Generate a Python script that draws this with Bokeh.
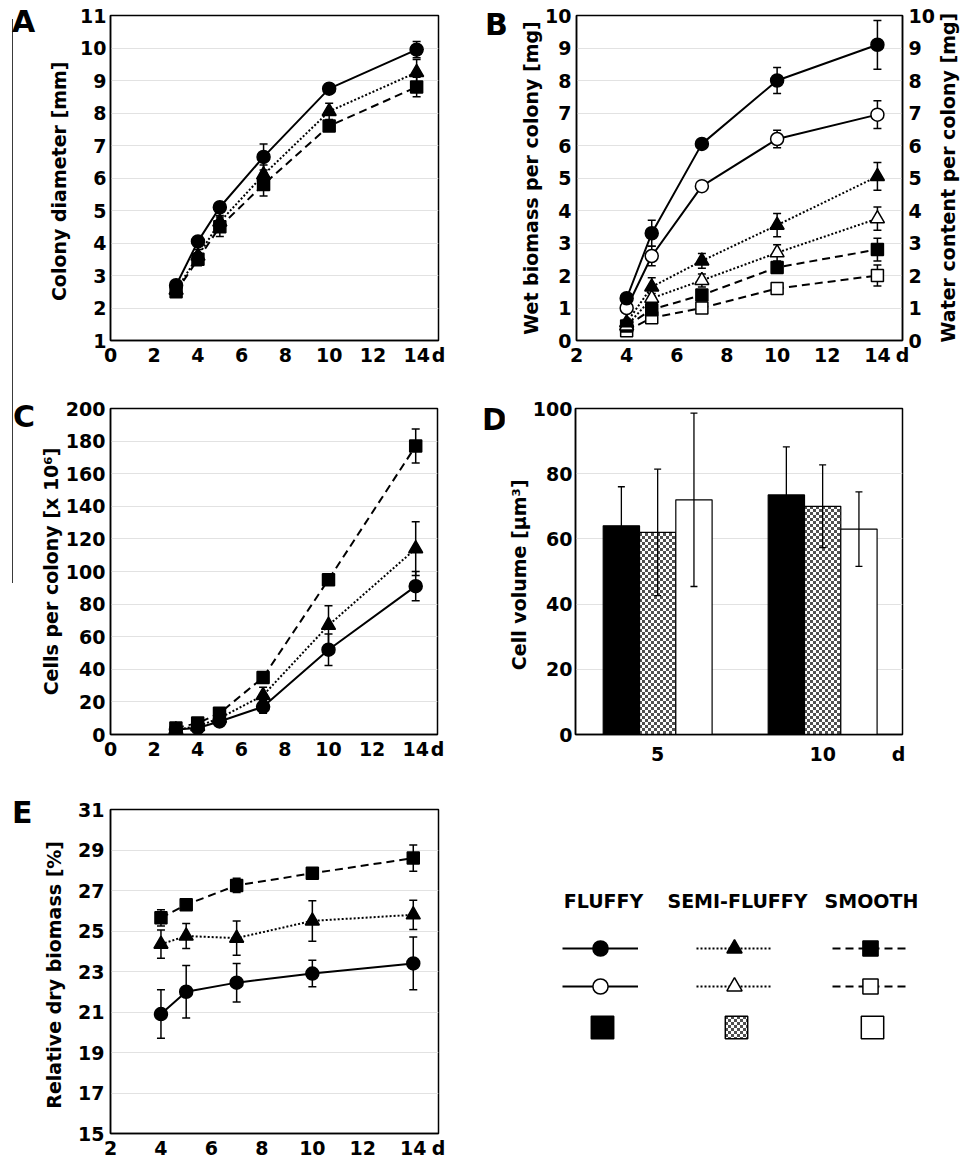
import math, zlib, struct, base64
from bokeh.plotting import figure
from bokeh.models import (Range1d, FixedTicker, LinearAxis, Whisker, TeeHead, Div,
                          ColumnDataSource, Label, Legend, LegendItem, ImageURLTexture)
from bokeh.layouts import column, row
from bokeh.embed import file_html
from bokeh.resources import INLINE
from bokeh.core.properties import value

FONT = "DejaVu Sans"
FS = "19px"

# ---------------- data ----------------
# A: colony diameter [mm]
days_a = [3, 4, 5, 7, 10, 14]
diam_fluffy = [2.7, 4.05, 5.1, 6.65, 8.75, 9.95]
diam_fluffy_err = [0.1, 0.1, 0.1, 0.4, 0.1, 0.25]
diam_semi = [2.55, 3.6, 4.65, 6.1, 8.05, 9.25]
diam_semi_err = [0.1, 0.2, 0.2, 0.3, 0.25, 0.4]
diam_smooth = [2.5, 3.5, 4.5, 5.8, 7.6, 8.8]
diam_smooth_err = [0.1, 0.2, 0.3, 0.35, 0.1, 0.3]

# B: wet biomass / water content per colony [mg]
days_b = [4, 5, 7, 10, 14]
wet_fluffy = [1.3, 3.3, 6.05, 8.0, 9.1]
wet_fluffy_err = [0.1, 0.4, 0.1, 0.4, 0.75]
water_fluffy = [1.0, 2.6, 4.75, 6.2, 6.95]
water_fluffy_err = [0.1, 0.3, 0.1, 0.27, 0.43]
wet_semi = [0.55, 1.65, 2.45, 3.55, 5.05]
wet_semi_err = [0.1, 0.28, 0.23, 0.36, 0.43]
water_semi = [0.45, 1.3, 1.85, 2.7, 3.75]
water_semi_err = [0.1, 0.15, 0.2, 0.25, 0.36]
wet_smooth = [0.45, 0.95, 1.4, 2.25, 2.8]
wet_smooth_err = [0.1, 0.1, 0.1, 0.1, 0.35]
water_smooth = [0.3, 0.7, 1.0, 1.6, 2.0]
water_smooth_err = [0.05, 0.05, 0.05, 0.05, 0.32]

# C: cells per colony [x 10^6]
days_c = [3, 4, 5, 7, 10, 14]
cells_fluffy = [3, 4, 8, 17, 52, 91]
cells_fluffy_err = [1, 1, 1, 4, 9.7, 9]
cells_semi = [3, 5, 10, 24, 67, 114]
cells_semi_err = [1, 1, 1, 5, 12, 16.5]
cells_smooth = [4, 7, 13, 35, 95, 177]
cells_smooth_err = [1, 1, 2, 2, 2, 10.5]

# D: cell volume [um3]
vol_days = ["5", "10"]
vol_fluffy = [64, 73.5]
vol_fluffy_err = [12, 14.7]
vol_semi = [62, 70]
vol_semi_err = [19.4, 12.7]
vol_smooth = [72, 63]
vol_smooth_err = [26.6, 11.4]

# E: relative dry biomass [%]
days_e = [4, 5, 7, 10, 14]
dry_fluffy = [20.9, 22.0, 22.45, 22.9, 23.4]
dry_fluffy_err = [1.2, 1.3, 0.95, 0.65, 1.3]
dry_semi = [24.35, 24.75, 24.65, 25.5, 25.8]
dry_semi_err = [0.7, 0.62, 0.85, 1.0, 0.72]
dry_smooth = [25.65, 26.3, 27.25, 27.85, 28.6]
dry_smooth_err = [0.4, 0.25, 0.35, 0.2, 0.65]

strain_names = ["FLUFFY", "SEMI-FLUFFY", "SMOOTH"]

# ---------------- styles ----------------
DASH = {"fluffy": "solid", "semi": "2 2", "smooth": "8 5"}
MARK = {"fluffy": "circle", "semi": "triangle", "smooth": "square"}
MSIZE = {"fluffy": 13, "semi": 14, "smooth": 12}


def checker_png(cell=3, dark=(80, 80, 80), light=(255, 255, 255)):
    n = cell * 2
    raw = b""
    for y in range(n):
        r = bytearray([0])
        for x in range(n):
            r += bytes(dark if ((x // cell) + (y // cell)) % 2 == 0 else light)
        raw += bytes(r)

    def chunk(t, d):
        return (struct.pack(">I", len(d)) + t + d +
                struct.pack(">I", zlib.crc32(t + d) & 0xffffffff))
    png = (b"\x89PNG\r\n\x1a\n" +
           chunk(b"IHDR", struct.pack(">IIBBBBB", n, n, 8, 2, 0, 0, 0)) +
           chunk(b"IDAT", zlib.compress(raw)) + chunk(b"IEND", b""))
    return "data:image/png;base64," + base64.b64encode(png).decode()


CHECKER = dict(fill_color="#a8a8a8", hatch_pattern=value("checker"),
               hatch_extra={"checker": ImageURLTexture(url=checker_png(), repetition="repeat")},
               hatch_color="black")


def style_axis(ax, standoff, label_standoff):
    ax.axis_line_color = "black"
    ax.axis_line_width = 1.5
    ax.major_tick_line_color = None
    ax.minor_tick_line_color = None
    ax.major_tick_out = 0
    ax.major_tick_in = 0
    ax.minor_tick_out = 0
    ax.minor_tick_in = 0
    ax.major_label_text_font = FONT
    ax.major_label_text_font_size = FS
    ax.major_label_text_font_style = "bold"
    ax.major_label_text_color = "black"
    ax.major_label_standoff = standoff
    ax.axis_label_text_font = FONT
    ax.axis_label_text_font_size = FS
    ax.axis_label_text_font_style = "bold"
    ax.axis_label_text_color = "black"
    ax.axis_label_standoff = label_standoff


def make_fig(w, h, xr, yr, borders, xticks, xover, yticks, ylabel,
             ystand=(5, 8), xstand=3):
    bl, br, bt, bb = borders
    p = figure(width=w, height=h, x_range=Range1d(*xr), y_range=Range1d(*yr),
               output_backend="svg", toolbar_location=None, tools="",
               min_border_left=bl, min_border_right=br,
               min_border_top=bt, min_border_bottom=bb)
    p.outline_line_color = "black"
    p.outline_line_width = 1.5
    p.xgrid.visible = False
    yt = FixedTicker(ticks=yticks)
    p.yaxis.ticker = yt
    p.ygrid.ticker = yt
    p.ygrid.grid_line_color = "#e2e2e2"
    p.ygrid.grid_line_width = 1
    p.xaxis.ticker = FixedTicker(ticks=xticks)
    p.xaxis.major_label_overrides = xover
    p.yaxis.axis_label = ylabel
    style_axis(p.yaxis[0], ystand[0], ystand[1])
    style_axis(p.xaxis[0], xstand, 0)
    return p


def text_div(txt, w, h, left, top, size=30, rule=None):
    extra = ""
    if rule is not None:
        rx, ry0, ry1 = rule
        extra = (f'<div style="position:absolute;left:{rx}px;top:{ry0}px;width:0;'
                 f'height:{ry1 - ry0}px;border-left:1px solid #3a3a3a;"></div>')
    html = (f'<div style="position:relative;width:{w}px;height:{h}px;">' + extra +
            '<div style="position:relative;font-family:\'DejaVu Sans\';font-weight:bold;'
            f'font-size:{size}px;line-height:{size}px;color:black;'
            f'padding-left:{left}px;padding-top:{top}px;white-space:nowrap;">{txt}</div></div>')
    return Div(text=html, width=w, height=h, margin=0)


def vertical_div(txt, w, h, cy):
    html = (f'<div style="width:{w}px;height:{2 * cy}px;display:flex;align-items:center;'
            'justify-content:center;">'
            '<span style="transform:rotate(-90deg);white-space:nowrap;'
            'font-family:\'DejaVu Sans\';font-weight:bold;font-size:19px;color:black;">'
            f'{txt}</span></div>')
    return Div(text=html, width=w, height=h, margin=0)


def series(p, x, y, err, kind, filled=True):
    src = ColumnDataSource(dict(x=x, y=y,
                                lo=[a - b for a, b in zip(y, err)],
                                hi=[a + b for a, b in zip(y, err)]))
    p.add_layout(Whisker(source=src, base="x", lower="lo", upper="hi",
                         line_color="black", line_width=1.5, level="underlay",
                         upper_head=TeeHead(size=8, line_width=1.5, line_color="black"),
                         lower_head=TeeHead(size=8, line_width=1.5, line_color="black")))
    p.line("x", "y", source=src, line_color="black", line_width=2, line_dash=DASH[kind])
    p.scatter("x", "y", source=src, marker=MARK[kind], size=MSIZE[kind],
              fill_color="black" if filled else "white", line_color="black",
              line_width=1.5)


def day_ticks(lo):
    ticks = list(range(lo, 15, 2)) + [15]
    return ticks, {15: "d"}


# ---------------- A ----------------
xt, xo = day_ticks(0)
pA = make_fig(440, 380, (0, 15), (1, 11), (70, 42, 15, 40), xt, xo,
              list(range(1, 12)), "Colony diameter  [mm]", ystand=(4, 7))
series(pA, days_a, diam_smooth, diam_smooth_err, "smooth")
series(pA, days_a, diam_semi, diam_semi_err, "semi")
series(pA, days_a, diam_fluffy, diam_fluffy_err, "fluffy")

# ---------------- B ----------------
xt, xo = day_ticks(2)
pB = make_fig(421, 380, (2, 15), (0, 10), (60, 34, 15, 40), xt, xo,
              list(range(0, 11)), "Wet biomass per colony [mg]", ystand=(5, 0))
rax = LinearAxis(ticker=FixedTicker(ticks=list(range(0, 11))))
style_axis(rax, 6, 0)
pB.add_layout(rax, "right")
series(pB, days_b, water_smooth, water_smooth_err, "smooth", filled=False)
series(pB, days_b, wet_smooth, wet_smooth_err, "smooth")
series(pB, days_b, water_semi, water_semi_err, "semi", filled=False)
series(pB, days_b, wet_semi, wet_semi_err, "semi")
series(pB, days_b, water_fluffy, water_fluffy_err, "fluffy", filled=False)
series(pB, days_b, wet_fluffy, wet_fluffy_err, "fluffy")

# ---------------- C ----------------
xt, xo = day_ticks(0)
pC = make_fig(444, 390, (0, 15), (0, 200), (74, 43, 28, 36), xt, xo,
              list(range(0, 201, 20)), "Cells per colony [x 10\u2076]", ystand=(5, 1))
series(pC, days_c, cells_fluffy, cells_fluffy_err, "fluffy")
series(pC, days_c, cells_semi, cells_semi_err, "semi")
series(pC, days_c, cells_smooth, cells_smooth_err, "smooth")

# ---------------- D ----------------
grp = [i + 1 for i in range(len(vol_days))]
d_over = {g: d for g, d in zip(grp, vol_days)}
d_over[2.46] = "d"
pD = make_fig(403, 390, (0.502, 2.484), (0, 100), (69, 5, 28, 36),
              grp + [2.46], d_over, list(range(0, 101, 20)),
              "Cell volume  [\u00b5m\u00b3]", ystand=(3, 0), xstand=8)
bar_specs = [
    (vol_fluffy, vol_fluffy_err, -0.22, dict(fill_color="black")),
    (vol_semi, vol_semi_err, 0.0, CHECKER),
    (vol_smooth, vol_smooth_err, 0.22, dict(fill_color="white")),
]
for vals, errs, off, fill in bar_specs:
    src = ColumnDataSource(dict(x=[g + off for g in grp], top=vals,
                                lo=[a - b for a, b in zip(vals, errs)],
                                hi=[a + b for a, b in zip(vals, errs)]))
    pD.vbar(x="x", top="top", bottom=0, width=0.22, source=src,
            line_color="black", line_width=1.2, **fill)
    pD.add_layout(Whisker(source=src, base="x", lower="lo", upper="hi",
                          line_color="black", line_width=1.3, level="overlay",
                          upper_head=TeeHead(size=7, line_width=1.3, line_color="black"),
                          lower_head=TeeHead(size=7, line_width=1.3, line_color="black")))

# ---------------- E ----------------
xt, xo = day_ticks(2)
pE = make_fig(444, 393, (2, 15), (15, 31), (74, 42, 39, 30), xt, xo,
              list(range(15, 32, 2)), "Relative dry biomass  [%]", ystand=(6, 10))
series(pE, days_e, dry_fluffy, dry_fluffy_err, "fluffy")
series(pE, days_e, dry_semi, dry_semi_err, "semi")
series(pE, days_e, dry_smooth, dry_smooth_err, "smooth")

# ---------------- key ----------------
lg = figure(width=481, height=393, x_range=Range1d(480, 961), y_range=Range1d(1133, 809),
            output_backend="svg", toolbar_location=None, tools="",
            min_border_left=0, min_border_right=0, min_border_top=39, min_border_bottom=30,
            x_axis_location=None, y_axis_location=None)
lg.outline_line_color = None
lg.grid.visible = False
nan = float("nan")

legend_style = dict(spacing=0, padding=0, margin=0, label_width=0, label_height=0,
                    label_standoff=0, label_text_font_size="1px",
                    border_line_color=None, background_fill_alpha=0)

line_x = [82, 216, 352]
box_x = [108, 242, 378]
head_x = [603, 737, 871]
bar_fills = [dict(fill_color="black"), CHECKER, dict(fill_color="white")]
for kind, name, lx, bx, hx, bf in zip(["fluffy", "semi", "smooth"], strain_names,
                                     line_x, box_x, head_x, bar_fills):
    ln = lg.line(x=[nan], y=[nan], line_color="black", line_width=2, line_dash=DASH[kind])
    mf = lg.scatter(x=[nan], y=[nan], marker=MARK[kind], fill_color="black",
                    line_color="black", line_width=1.5)
    mo = lg.scatter(x=[nan], y=[nan], marker=MARK[kind], fill_color="white",
                    line_color="black", line_width=1.5)
    lg.add_layout(Legend(items=[LegendItem(label=" ", renderers=[ln, mf]),
                                LegendItem(label=" ", renderers=[ln, mo])],
                         location=(lx, 128), glyph_width=76, glyph_height=38,
                         **legend_style))
    bb = lg.vbar(x=[nan], top=[nan], width=1, line_color="black", line_width=1.5, **bf)
    lg.add_layout(Legend(items=[LegendItem(label=" ", renderers=[bb])],
                         location=(bx, 92), glyph_width=28, glyph_height=28,
                         **legend_style))
    lg.add_layout(Label(x=hx, y=900, text=name, text_font=FONT, text_font_size="19px",
                        text_font_style="bold", text_color="black",
                        text_align="center", text_baseline="middle"))

# ---------------- panel letters / right label ----------------
dA = text_div("A", 40, 380, 12, 7, rule=(12, 19, 380))
dB = text_div("B", 36, 380, 5, 10)
dW = vertical_div("Water content per colony [mg]", 24, 380, 178)
dC = text_div("C", 36, 390, 13, 22, rule=(12, 0, 203))
dD = text_div("D", 24, 390, 2, 25)
dE = text_div("E", 36, 393, 12, 28)

layout = column(row(dA, pA, dB, pB, dW),
                row(dC, pC, dD, pD),
                row(dE, pE, lg))

with open("out.html", "w") as f:
    f.write(file_html(layout, INLINE))
